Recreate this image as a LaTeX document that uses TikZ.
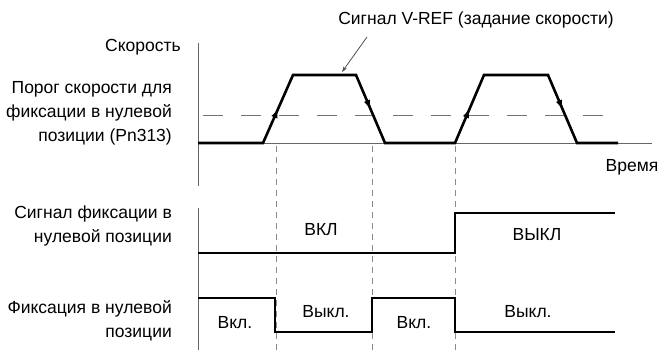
\documentclass[tikz,border=0pt]{standalone}
\usepackage{fontspec}
\setmainfont{Liberation Sans}
\usetikzlibrary{arrows.meta}

\begin{document}
\begin{tikzpicture}[x=1pt, y=-1pt,
    lbl/.style={font=\fontsize{17.5}{24}\selectfont, align=right, anchor=east, inner sep=0pt},
    txt/.style={font=\fontsize{17.5}{24}\selectfont, inner sep=0pt},
    axis/.style={black!60, line width=0.9pt},
    sig/.style={black, line width=2.6pt},
    thr/.style={black!55, line width=1pt, dash pattern=on 20pt off 18pt},
    guide/.style={black!45, line width=0.9pt, dash pattern=on 6pt off 5pt},
    tip/.style={black, line width=1pt, -{Latex[length=9pt, width=6.5pt]}},
    callout/.style={black!70, line width=0.8pt, -{Stealth[length=6pt, width=4pt]}},
  ]
    \useasboundingbox (0,0) rectangle (658,350);

    % axes and guides
    \draw[axis] (198,43) -- (198,186);
    \draw[axis] (198,143) -- (652,143);
    \draw[axis] (198,208) -- (198,350);
    \draw[thr] (203,116) -- (617,116);
    \foreach \x in {276,372,455}
      \draw[guide] (\x,146) -- (\x,350);

    % speed reference
    \draw[sig] (198,143) -- (263,143) -- (293,75) -- (356,75) -- (385,143)
      -- (455,143) -- (484,75) -- (548,75) -- (577,143) -- (618,143);
    \draw[tip] (263,143) -- (278,109);
    \draw[tip] (356,75) -- (370.5,109);
    \draw[tip] (455,143) -- (469.5,109);
    \draw[tip] (548,75) -- (562.5,109);

    % clamp signal
    \draw[sig] (198,253) -- (455,253) -- (455,213) -- (615,213);
    % clamp state
    \draw[sig] (198,298) -- (275,298) -- (275,332) -- (372,332) -- (372,298)
      -- (455,298) -- (455,332) -- (615,332);

    % labels
    \node[lbl] (speed) at (181,47)  {Скорость};
    \node[lbl] (thrl)  at (172,113) {Порог скорости для\\фиксации в нулевой\\позиции (Pn313)};
    \node[lbl] (clmp)  at (172,226) {Сигнал фиксации в\\нулевой позиции};
    \node[lbl] (fix)   at (172,321) {Фиксация в нулевой\\позиции};
    \node[txt] (time)  at (632,167) {Время};
    \node[txt] (vref)  at (476,20)  {Сигнал V-REF (задание скорости)};

    \coordinate (vfrom) at (367,37);
    \coordinate (vto)   at (342,72);
    \draw[callout] (vfrom) -- (vto);

    \node[txt] (on1)  at (321,230) {ВКЛ};
    \node[txt] (off1) at (537,235) {ВЫКЛ};
    \node[txt] (fon1) at (235,323) {Вкл.};
    \node[txt] (fof1) at (326,312) {Выкл.};
    \node[txt] (fon2) at (414,323) {Вкл.};
    \node[txt] (fof2) at (528,312) {Выкл.};
\end{tikzpicture}
\end{document}
